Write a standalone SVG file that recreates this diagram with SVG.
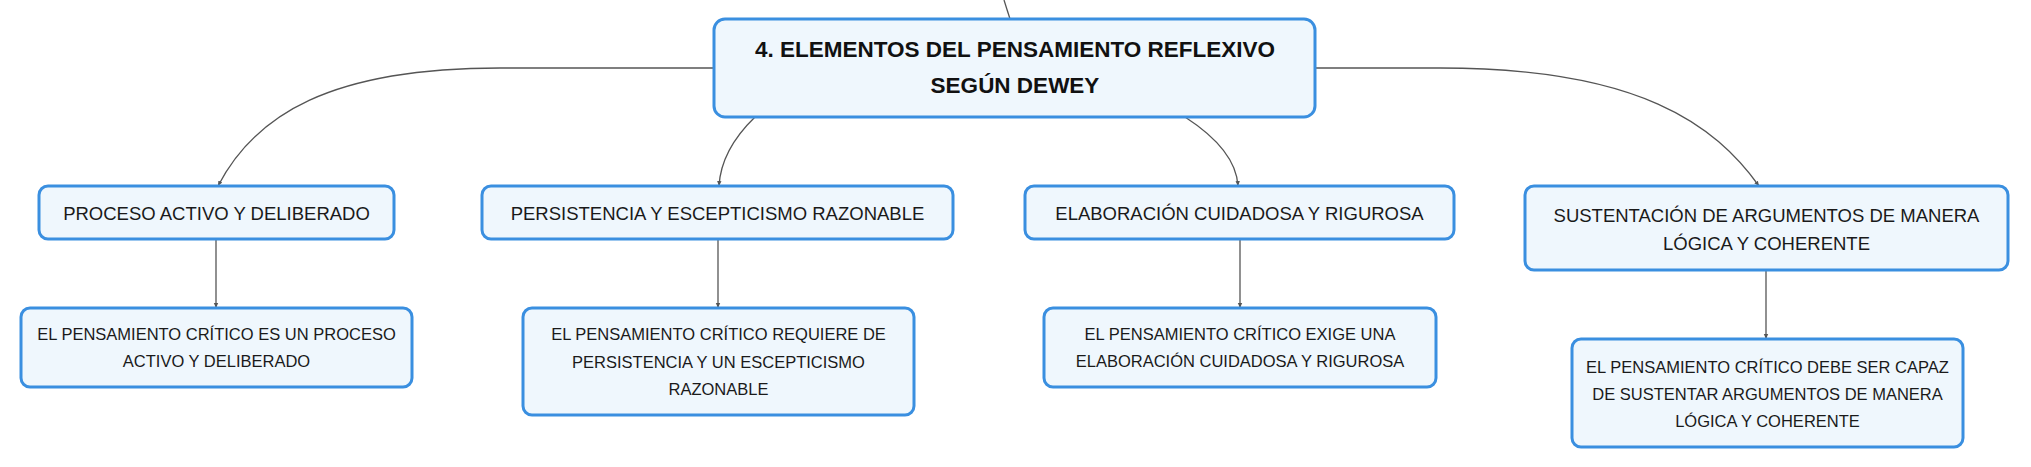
<svg xmlns="http://www.w3.org/2000/svg" width="2031" height="467" viewBox="0 0 2031 467">
<style>
.box{fill:#eff7fd;stroke:#3a8fe0;stroke-width:3}
.t{font-family:"Liberation Sans",Arial,sans-serif;fill:#1a1a1a;text-anchor:middle}
.l1{font-size:18.5px}
.l2{font-size:16.5px}
.root{font-size:22.5px;font-weight:bold;fill:#111}
.c{fill:none;stroke:#555;stroke-width:1.3}
</style>
<defs>
<marker id="ah" markerUnits="userSpaceOnUse" markerWidth="6" markerHeight="6" refX="5" refY="3" orient="auto">
<path d="M0,0.8 L5,3 L0,5.2 z" fill="#555"/>
</marker>
</defs>
<rect width="2031" height="467" fill="#ffffff"/>
<g id="connectors">
<path class="c" d="M1004,0 L1010,19"/>
<path class="c" marker-end="url(#ah)" d="M714,68 L500,68 C330,68 255,115 218,186"/>
<path class="c" marker-end="url(#ah)" d="M755,117 Q721,150 719,186"/>
<path class="c" marker-end="url(#ah)" d="M1185,117 Q1236,150 1238,186"/>
<path class="c" marker-end="url(#ah)" d="M1315,68 L1440,68 C1640,68 1715,125 1759,186"/>
<path class="c" marker-end="url(#ah)" d="M216,239 L216,308"/>
<path class="c" marker-end="url(#ah)" d="M718,239 L718,308"/>
<path class="c" marker-end="url(#ah)" d="M1240,239 L1240,308"/>
<path class="c" marker-end="url(#ah)" d="M1766,270 L1766,339"/>
</g>
<g id="root">
<rect class="box" x="714" y="19" width="601" height="98" rx="11"/>
<text class="t root" x="1015" y="57">4. ELEMENTOS DEL PENSAMIENTO REFLEXIVO</text>
<text class="t root" x="1015" y="93">SEGÚN DEWEY</text>
</g>
<g id="n1">
<rect class="box" x="39" y="186" width="355" height="53" rx="9"/>
<text class="t l1" x="216.5" y="220">PROCESO ACTIVO Y DELIBERADO</text>
</g>
<g id="n2">
<rect class="box" x="482" y="186" width="471" height="53" rx="9"/>
<text class="t l1" x="717.5" y="220">PERSISTENCIA Y ESCEPTICISMO RAZONABLE</text>
</g>
<g id="n3">
<rect class="box" x="1025" y="186" width="429" height="53" rx="9"/>
<text class="t l1" x="1239.5" y="220">ELABORACIÓN CUIDADOSA Y RIGUROSA</text>
</g>
<g id="n4">
<rect class="box" x="1525" y="186" width="483" height="84" rx="9"/>
<text class="t l1" x="1766.5" y="221.5">SUSTENTACIÓN DE ARGUMENTOS DE MANERA</text>
<text class="t l1" x="1766.5" y="250">LÓGICA Y COHERENTE</text>
</g>
<g id="c1">
<rect class="box" x="21" y="308" width="391" height="79" rx="9"/>
<text class="t l2" x="216.5" y="340">EL PENSAMIENTO CRÍTICO ES UN PROCESO</text>
<text class="t l2" x="216.5" y="367">ACTIVO Y DELIBERADO</text>
</g>
<g id="c2">
<rect class="box" x="523" y="308" width="391" height="107" rx="9"/>
<text class="t l2" x="718.5" y="340">EL PENSAMIENTO CRÍTICO REQUIERE DE</text>
<text class="t l2" x="718.5" y="367.5">PERSISTENCIA Y UN ESCEPTICISMO</text>
<text class="t l2" x="718.5" y="395">RAZONABLE</text>
</g>
<g id="c3">
<rect class="box" x="1044" y="308" width="392" height="79" rx="9"/>
<text class="t l2" x="1240" y="340">EL PENSAMIENTO CRÍTICO EXIGE UNA</text>
<text class="t l2" x="1240" y="367">ELABORACIÓN CUIDADOSA Y RIGUROSA</text>
</g>
<g id="c4">
<rect class="box" x="1572" y="339" width="391" height="108" rx="9"/>
<text class="t l2" x="1767.5" y="373">EL PENSAMIENTO CRÍTICO DEBE SER CAPAZ</text>
<text class="t l2" x="1767.5" y="400">DE SUSTENTAR ARGUMENTOS DE MANERA</text>
<text class="t l2" x="1767.5" y="427">LÓGICA Y COHERENTE</text>
</g>
</svg>
